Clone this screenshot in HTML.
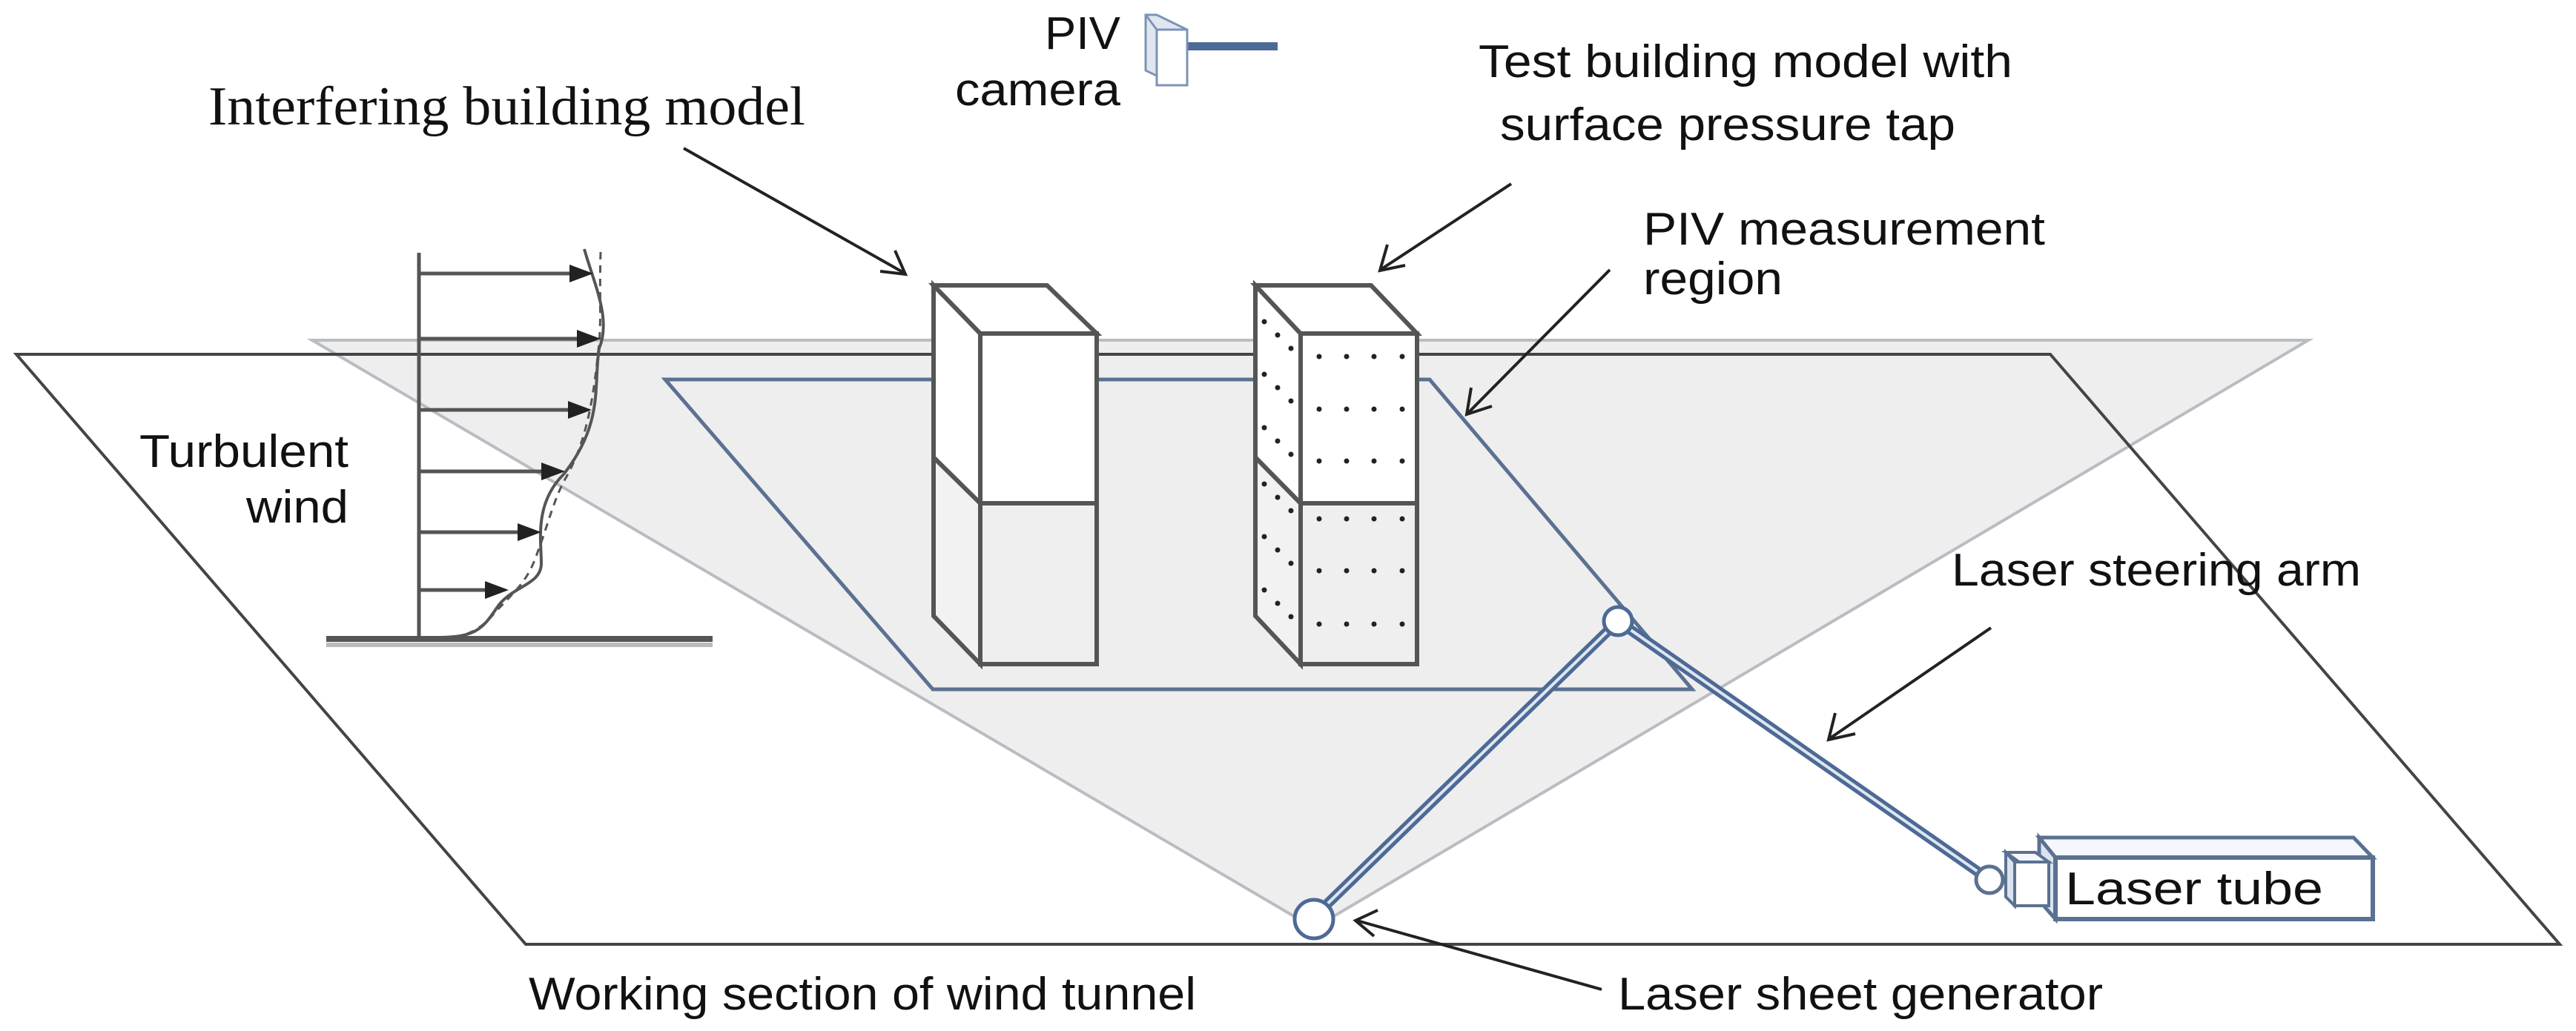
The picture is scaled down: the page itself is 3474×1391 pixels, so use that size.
<!DOCTYPE html>
<html><head><meta charset="utf-8"><style>html,body{margin:0;padding:0;background:#fff}svg{display:block}</style></head>
<body>
<svg width="3474" height="1391" viewBox="0 0 3474 1391" xmlns="http://www.w3.org/2000/svg">
<!-- gray laser sheet triangle -->
<polygon points="421,459 3113,459 1772,1252" fill="#eeeeef" stroke="#b9bcc3" stroke-width="4"/>
<!-- tunnel floor -->
<polygon points="22,478 2765,478 3452,1274 709,1274" fill="none" stroke="#444" stroke-width="4"/>
<!-- PIV region -->
<polygon points="897,512 1928,512 2282,930 1258,930" fill="none" stroke="#5b7191" stroke-width="5"/>
<!-- velocity profile -->
<g stroke="#555" stroke-width="5" fill="none">
<line x1="565" y1="341" x2="565" y2="859"/>
<line x1="565" y1="369" x2="770" y2="369"/>
<line x1="565" y1="457" x2="780" y2="457"/>
<line x1="565" y1="553" x2="768" y2="553"/>
<line x1="565" y1="636" x2="732" y2="636"/>
<line x1="565" y1="718" x2="700" y2="718"/>
<line x1="565" y1="796" x2="656" y2="796"/>
<path d="M788,336 C800,380 825,430 808,470 C800,520 815,570 760,640 C720,680 730,730 730,760 C730,790 690,790 670,820 C650,850 640,860 588,860" stroke-width="4"/>
<path d="M810,340 C808,400 812,440 806,480 C800,540 790,600 760,650 C745,680 735,720 725,745 C710,790 690,800 660,835 C640,855 620,860 595,862" stroke-width="3" stroke-dasharray="10,8"/>
</g>
<g fill="#222">
<polygon points="768,357 800,369 768,381"/>
<polygon points="778,445 810,457 778,469"/>
<polygon points="766,541 798,553 766,565"/>
<polygon points="730,624 762,636 730,648"/>
<polygon points="698,706 730,718 698,730"/>
<polygon points="654,784 686,796 654,808"/>
</g>
<line x1="440" y1="862" x2="961" y2="862" stroke="#555" stroke-width="8"/>
<line x1="440" y1="870" x2="961" y2="870" stroke="#bbb" stroke-width="6"/>
<!-- building 1 -->
<g stroke="#555" stroke-width="6">
<polygon points="1259,617 1322,679 1322,896 1259,831" fill="#f2f2f2"/>
<rect x="1322" y="679" width="157" height="217" fill="#efefef"/>
<polygon points="1259,385 1322,450 1322,679 1259,617" fill="#fff"/>
<rect x="1322" y="450" width="157" height="229" fill="#fff"/>
<polygon points="1259,385 1412,385 1479,450 1322,450" fill="#fff"/>
</g>
<!-- building 2 -->
<g stroke="#555" stroke-width="6">
<polygon points="1693,617 1754,679 1754,896 1693,831" fill="#f2f2f2"/>
<rect x="1754" y="679" width="157" height="217" fill="#efefef"/>
<polygon points="1693,385 1754,450 1754,679 1693,617" fill="#fff"/>
<rect x="1754" y="450" width="157" height="229" fill="#fff"/>
<polygon points="1693,385 1849,385 1911,450 1754,450" fill="#fff"/>
</g>
<g fill="#222">
<g id="row"><circle cx="1779" cy="481" r="3.5"/><circle cx="1816" cy="481" r="3.5"/><circle cx="1853" cy="481" r="3.5"/><circle cx="1891" cy="481" r="3.5"/></g>
<use href="#row" y="71"/><use href="#row" y="141"/><use href="#row" y="219"/><use href="#row" y="289"/><use href="#row" y="361"/>
<g id="diag"><circle cx="1705" cy="434" r="3.5"/><circle cx="1723" cy="452" r="3.5"/><circle cx="1741" cy="470" r="3.5"/></g>
<use href="#diag" y="71"/><use href="#diag" y="143"/><use href="#diag" y="219"/><use href="#diag" y="290"/><use href="#diag" y="362"/>
</g>
<!-- laser arm -->
<g fill="none" stroke-linecap="round">
<path d="M1772,1237 L2182,838 L2683,1187" stroke="#4d6a96" stroke-width="14"/>
<path d="M1772,1237 L2182,838 L2683,1187" stroke="#dfe6f0" stroke-width="4"/>
</g>
<circle cx="2182" cy="838" r="19" fill="#fff" stroke="#4d6a96" stroke-width="5"/>
<circle cx="1772" cy="1240" r="26" fill="#fff" stroke="#4d6a96" stroke-width="5"/>
<!-- laser tube -->
<polygon points="2750,1130 3174,1130 3200,1157 2772,1157" fill="#f4f7fb" stroke="#5b7191" stroke-width="5"/>
<polygon points="2750,1130 2772,1157 2772,1240 2750,1215" fill="#dbe3ee" stroke="#5b7191" stroke-width="5"/>
<rect x="2772" y="1157" width="428" height="83" fill="#fff" stroke="#5b7191" stroke-width="6"/>
<polygon points="2705,1150 2745,1150 2763,1163 2723,1163" fill="#f4f7fb" stroke="#5b7191" stroke-width="4"/>
<rect x="2717" y="1163" width="46" height="59" fill="#fff" stroke="#5b7191" stroke-width="4"/>
<polygon points="2705,1150 2717,1163 2717,1222 2705,1210" fill="#dbe3ee" stroke="#5b7191" stroke-width="4"/>
<circle cx="2683" cy="1187" r="18" fill="#fff" stroke="#5b7191" stroke-width="5"/>
<!-- PIV camera -->
<rect x="1597" y="57" width="126" height="11" fill="#4d6a96"/>
<polygon points="1545,20 1560,20 1601,40 1601,115 1586,115 1545,95" fill="#dfe6f0" stroke="#7d93b5" stroke-width="3"/>
<rect x="1560" y="40" width="41" height="75" fill="#fff" stroke="#7d93b5" stroke-width="3"/>
<line x1="1545" y1="20" x2="1560" y2="40" stroke="#7d93b5" stroke-width="3"/>
<!-- leader arrows -->
<g stroke="#222" stroke-width="4" fill="none">
<line x1="922" y1="200" x2="1219" y2="368"/>
<line x1="2038" y1="248" x2="1863" y2="363"/>
<line x1="2171" y1="364" x2="1980" y2="557"/>
<line x1="2685" y1="847" x2="2468" y2="996"/>
<line x1="2160" y1="1335" x2="1830" y2="1242"/>
<polyline points="1187,366 1221,370 1207,338"/>
<polyline points="1871,330 1861,365 1895,358"/>
<polyline points="1984,523 1978,559 2012,548"/>
<polyline points="2475,962 2466,998 2502,990"/>
<polyline points="1858,1228 1828,1242 1853,1263"/>
</g>
<!-- labels -->
<g font-family="'Liberation Sans', sans-serif" font-size="62" fill="#111">
<text x="1409" y="66" textLength="102" lengthAdjust="spacingAndGlyphs">PIV</text>
<text x="1288" y="142" textLength="223" lengthAdjust="spacingAndGlyphs">camera</text>
<text x="1994" y="104" textLength="720" lengthAdjust="spacingAndGlyphs">Test building model with</text>
<text x="2023" y="189" textLength="614" lengthAdjust="spacingAndGlyphs">surface pressure tap</text>
<text x="2216" y="330" textLength="542" lengthAdjust="spacingAndGlyphs">PIV measurement</text>
<text x="2216" y="397" textLength="188" lengthAdjust="spacingAndGlyphs">region</text>
<text x="188" y="630" textLength="282" lengthAdjust="spacingAndGlyphs">Turbulent</text>
<text x="332" y="705" textLength="138" lengthAdjust="spacingAndGlyphs">wind</text>
<text x="2632" y="790" textLength="552" lengthAdjust="spacingAndGlyphs">Laser steering arm</text>
<text x="2785" y="1220" textLength="348" lengthAdjust="spacingAndGlyphs">Laser tube</text>
<text x="713" y="1362" textLength="900" lengthAdjust="spacingAndGlyphs">Working section of wind tunnel</text>
<text x="2182" y="1362" textLength="654" lengthAdjust="spacingAndGlyphs">Laser sheet generator</text>
</g>
<text x="281" y="168" font-family="'Liberation Serif', serif" font-size="74" fill="#111" textLength="805" lengthAdjust="spacingAndGlyphs">Interfering building model</text>
</svg>
</body></html>
